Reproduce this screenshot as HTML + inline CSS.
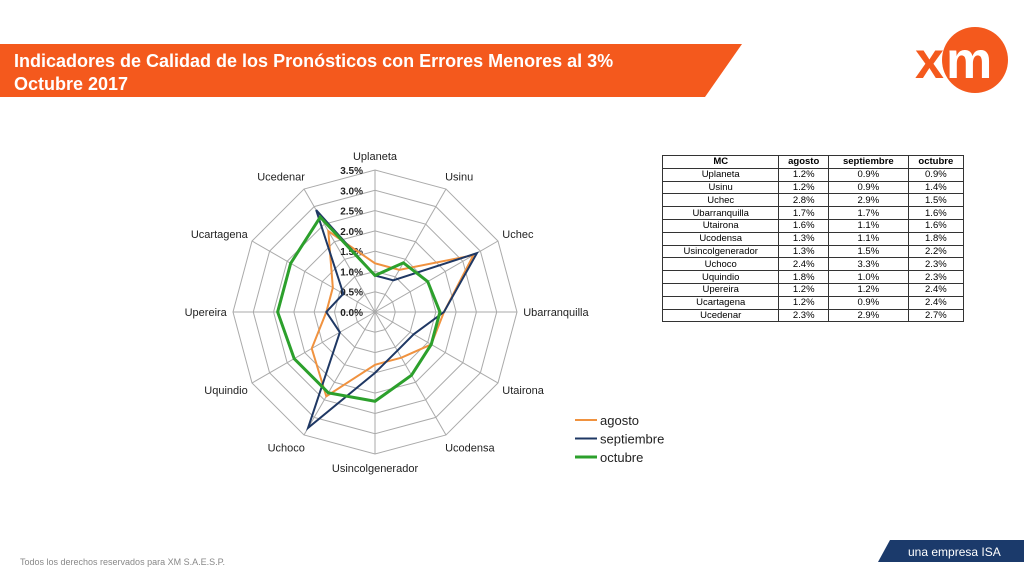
<!DOCTYPE html>
<html><head><meta charset="utf-8"><style>
body{margin:0;width:1024px;height:576px;background:#fff;position:relative;overflow:hidden;font-family:"Liberation Sans",sans-serif}
table{position:absolute;left:662px;top:155px;border-collapse:collapse;font-size:9.5px;width:302px}
td,th{border:1px solid #333;height:11.8px;padding:0;text-align:center;line-height:11px}
th{font-weight:bold}
</style></head><body>
<svg width="1024" height="576" style="position:absolute;left:0;top:0">
<polygon points="0,44 742,44 705,97 0,97" fill="#f4591d"/>
<text x="14" y="67" fill="#fff" font-size="18" font-weight="bold">Indicadores de Calidad de los Pronósticos con Errores Menores al 3%</text>
<text x="14" y="90" fill="#fff" font-size="18" font-weight="bold">Octubre 2017</text>
<g>
<circle cx="975" cy="60" r="33" fill="#f4591d"/>
<text x="915" y="78" fill="#f4591d" font-size="52" font-weight="bold">x</text>
<text x="946" y="78" fill="#fff" font-size="52" font-weight="bold">m</text>
</g>
<polygon points="890,540 1024,540 1024,562 878,562" fill="#1b3a6b"/>
<text x="908" y="556" fill="#fff" font-size="12">una empresa ISA</text>
<text x="20" y="565" fill="#888" font-size="9">Todos los derechos reservados para XM S.A.E.S.P.</text>
<g id="chart"></g>
</svg>
<table><tbody id="tb"></tbody></table>
<script>
const categories=["Uplaneta","Usinu","Uchec","Ubarranquilla","Utairona","Ucodensa","Usincolgenerador","Uchoco","Uquindio","Upereira","Ucartagena","Ucedenar"];
const agosto=[1.2,1.2,2.8,1.7,1.6,1.3,1.3,2.4,1.8,1.2,1.2,2.3];
const septiembre=[0.9,0.9,2.9,1.7,1.1,1.1,1.5,3.3,1.0,1.2,0.9,2.9];
const octubre=[0.9,1.4,1.5,1.6,1.6,1.8,2.2,2.3,2.3,2.4,2.4,2.7];
const ticks=["0.0%","0.5%","1.0%","1.5%","2.0%","2.5%","3.0%","3.5%"];
const cx=375,cy=312,R=142,max=3.5;
const ns="http://www.w3.org/2000/svg",g=document.getElementById("chart");
function pt(i,v){const a=i*2*Math.PI/categories.length;const r=v/max*R;return [cx+r*Math.sin(a),cy-r*Math.cos(a)];}
function mk(t,at){const e=document.createElementNS(ns,t);for(const k in at)e.setAttribute(k,at[k]);g.appendChild(e);return e;}
for(let k=1;k<ticks.length;k++){const v=k*0.5;const p=mk("polygon",{points:categories.map((c,i)=>pt(i,v).join(",")).join(" "),fill:"none",stroke:"#aaa","stroke-width":1});

}
categories.forEach((c,i)=>{const p=pt(i,max);const l=mk("line",{x1:cx,y1:cy,x2:p[0],y2:p[1],stroke:"#aaa"});


const q=pt(i,max*1.1);const a=i*30;let anc=(a==0||a==180)?"middle":(a<180?"start":"end");
const t=mk("text",{x:q[0]+(anc=="start"?-8:anc=="end"?8:0),y:q[1]+4,"font-size":11,"text-anchor":anc,fill:"#222"});t.textContent=c;

});
ticks.forEach((s,k)=>{const p=pt(0,k*0.5);const t=mk("text",{x:cx-12,y:p[1]+4,"font-size":10,"font-weight":"bold","text-anchor":"end",fill:"#222"});t.textContent=s;

});
const series=[["agosto",agosto,"#f0923f",2],["septiembre",septiembre,"#1f3864",2],["octubre",octubre,"#2ca02c",3]];
series.forEach((s,j)=>{const p=mk("polygon",{points:s[1].map((v,i)=>pt(i,v).join(",")).join(" "),fill:"none",stroke:s[2],"stroke-width":s[3]});


const y=420+j*18.5;const l=mk("line",{x1:575,x2:597,y1:y,y2:y,stroke:s[2],"stroke-width":s[3]});


const t=mk("text",{x:600,y:y+5,"font-size":13,fill:"#222"});t.textContent=s[0];

});
const tb=document.getElementById("tb");
let h="<tr><th>MC</th><th>agosto</th><th>septiembre</th><th>octubre</th></tr>";
categories.forEach((c,i)=>{h+="<tr><td>"+c+"</td><td>"+agosto[i].toFixed(1)+"%</td><td>"+septiembre[i].toFixed(1)+"%</td><td>"+octubre[i].toFixed(1)+"%</td></tr>";});
tb.innerHTML=h;
</script>
</body></html>
